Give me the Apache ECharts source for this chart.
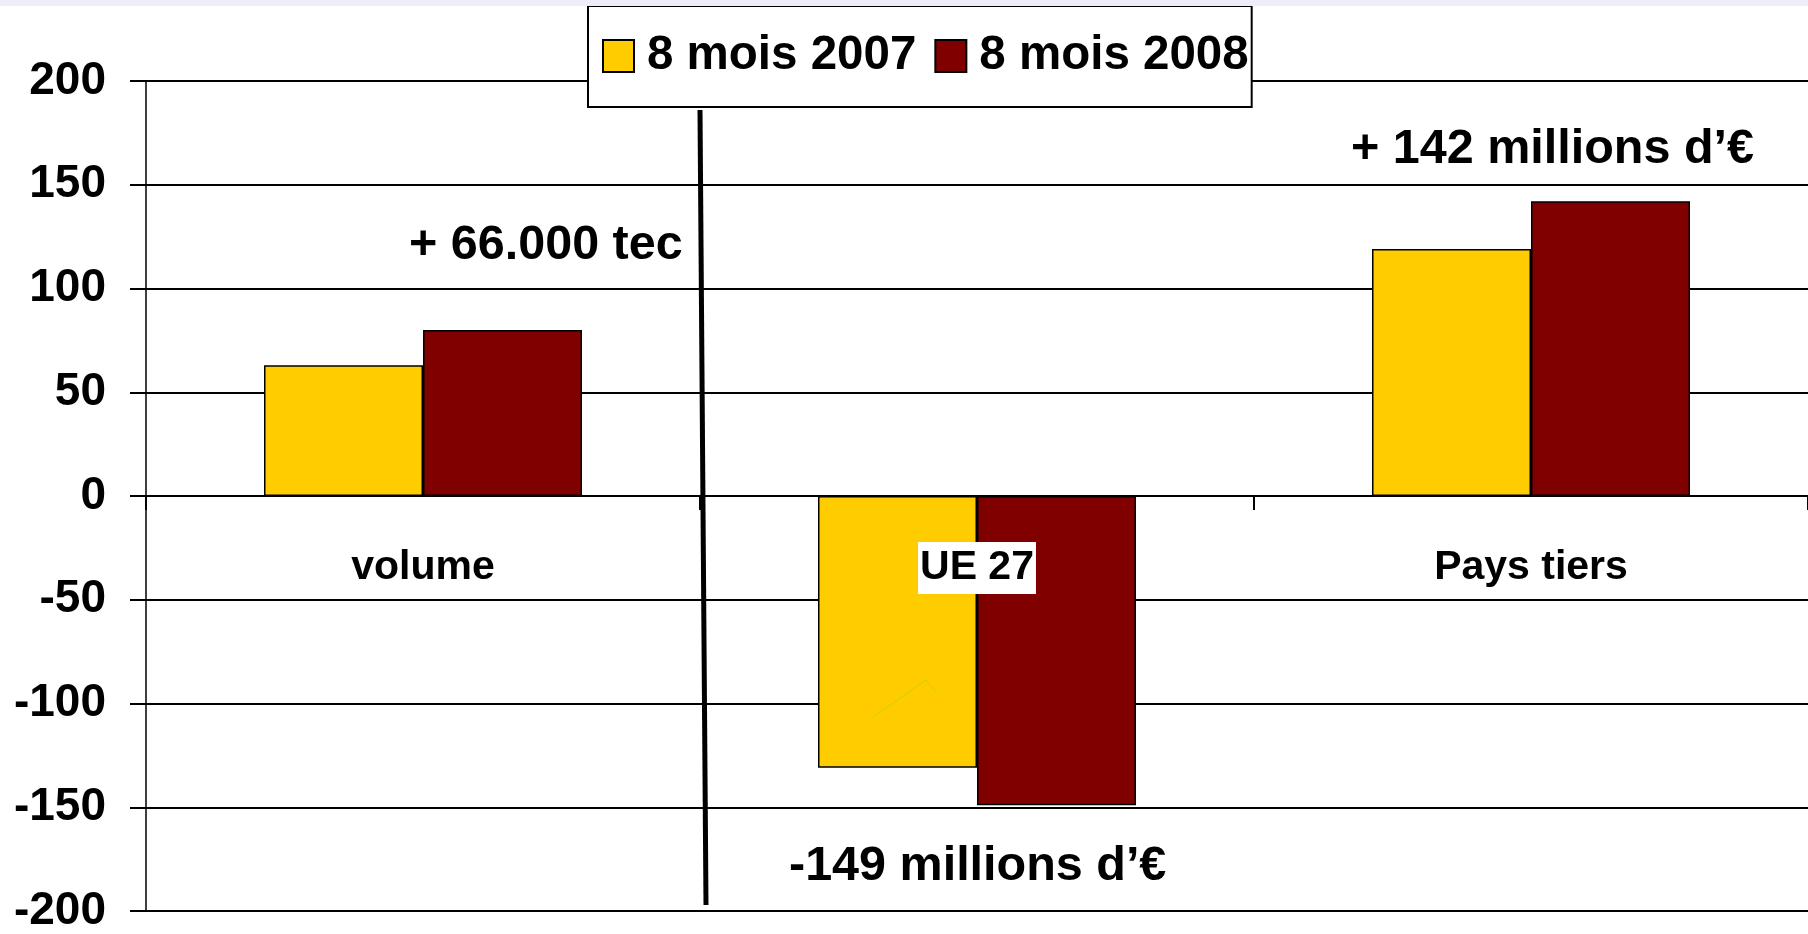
<!DOCTYPE html>
<html>
<head>
<meta charset="utf-8">
<script src="https://cdn.jsdelivr.net/npm/echarts@6/dist/echarts.min.js"></script>
<style>
  html, body { margin: 0; padding: 0; background: #fff; }
  #chart { width: 1808px; height: 934px; }
</style>
</head>
<body>
<div id="chart"></div>
<script>
// données
const categories = ['volume', 'UE 27', 'Pays tiers']
const mois2007 = [63, -131, 119]
const mois2008 = [80, -149, 142]
const seriesNames = ['8 mois 2007', '8 mois 2008']
const yMin = -200
const yMax = 200
const yStep = 50
const notes = ['+ 66.000 tec', '+ 142 millions d\u2019\u20ac', '-149 millions d\u2019\u20ac']

const font = '"Liberation Sans", Arial, sans-serif'
const chart = echarts.init(document.getElementById('chart'))

chart.setOption({
    animation: false,
    backgroundColor: '#fff',
    grid: {
        left: 146,
        right: 0,
        top: 81,
        bottom: 23,
        containLabel: false,
        outerBoundsMode: 'none'
    },
    legend: {
        left: 588,
        top: 6,
        padding: [22, 3, 23, 14],
        itemGap: 18,
        itemWidth: 31,
        itemHeight: 32,
        icon: 'rect',
        backgroundColor: '#fff',
        borderColor: '#000',
        borderWidth: 2,
        borderRadius: 0,
        itemStyle: { borderColor: '#000', borderWidth: 2 },
        textStyle: {
            color: '#000',
            fontFamily: font,
            fontWeight: 'bold',
            fontSize: 47.5,
            lineHeight: 56,
            padding: [0, 0, 0, 8]
        },
        data: seriesNames
    },
    xAxis: {
        type: 'category',
        data: categories,
        z: 10,
        axisLine: { onZero: false, lineStyle: { color: '#000', width: 2 } },
        axisTick: { show: true, length: 14, lineStyle: { color: '#000', width: 2 } },
        axisLabel: {
            margin: 46,
            color: '#000',
            fontFamily: font,
            fontWeight: 'bold',
            fontSize: 41,
            lineHeight: 46,
            backgroundColor: '#fff',
            padding: [3, 2]
        },
        splitLine: { show: false }
    },
    yAxis: {
        type: 'value',
        min: yMin,
        max: yMax,
        interval: yStep,
        axisLine: { show: true, lineStyle: { color: '#000', width: 1.5 } },
        axisTick: { show: true, length: 16, lineStyle: { color: '#000', width: 2 } },
        axisLabel: {
            margin: 40,
            color: '#000',
            fontFamily: font,
            fontWeight: 'bold',
            fontSize: 46
        },
        splitLine: { show: true, lineStyle: { color: '#000', width: 2 } }
    },
    series: [
        {
            name: seriesNames[0],
            type: 'bar',
            data: mois2007,
            barGap: '0%',
            barCategoryGap: '42.6%',
            itemStyle: { color: '#FFCC00', borderColor: '#000', borderWidth: 1.5 }
        },
        {
            name: seriesNames[1],
            type: 'bar',
            data: mois2008,
            barGap: '0%',
            barCategoryGap: '42.6%',
            itemStyle: { color: '#800000', borderColor: '#000', borderWidth: 1.5 }
        }
    ]
})

// axe des catégories remonté sur la ligne du zéro
let zeroY = chart.convertToPixel({ yAxisIndex: 0 }, 0)
let bottomY = chart.convertToPixel({ yAxisIndex: 0 }, yMin)
chart.setOption({ xAxis: { offset: zeroY - bottomY } })

// séparateur et annotations
let band = chart.convertToPixel({ xAxisIndex: 0 }, 1) - chart.convertToPixel({ xAxisIndex: 0 }, 0)
let sepX = chart.convertToPixel({ xAxisIndex: 0 }, 0) + band / 2
let noteStyle = { font: 'bold 48.5px ' + font, fill: '#000', verticalAlign: 'middle' }

chart.setOption({
    graphic: [
        { type: 'rect', left: 0, top: 0, shape: { width: 1808, height: 6 }, style: { fill: '#eeeefa' }, z: 10 },
        { type: 'line', shape: { x1: sepX, y1: 110, x2: sepX + 6, y2: 905 }, style: { stroke: '#000', lineWidth: 5 }, z: 10 },
        { type: 'polyline', shape: { points: [[873, 717], [926, 680], [936, 692]] }, style: { stroke: '#c8d400', lineWidth: 1, fill: null }, z: 10 },
        { type: 'text', x: 409, y: 246, style: Object.assign({ text: notes[0] }, noteStyle), z: 10 },
        { type: 'text', x: 1351, y: 150, style: Object.assign({ text: notes[1] }, noteStyle), z: 10 },
        { type: 'text', x: 789, y: 867, style: Object.assign({ text: notes[2] }, noteStyle), z: 10 }
    ]
})
</script>
</body>
</html>
